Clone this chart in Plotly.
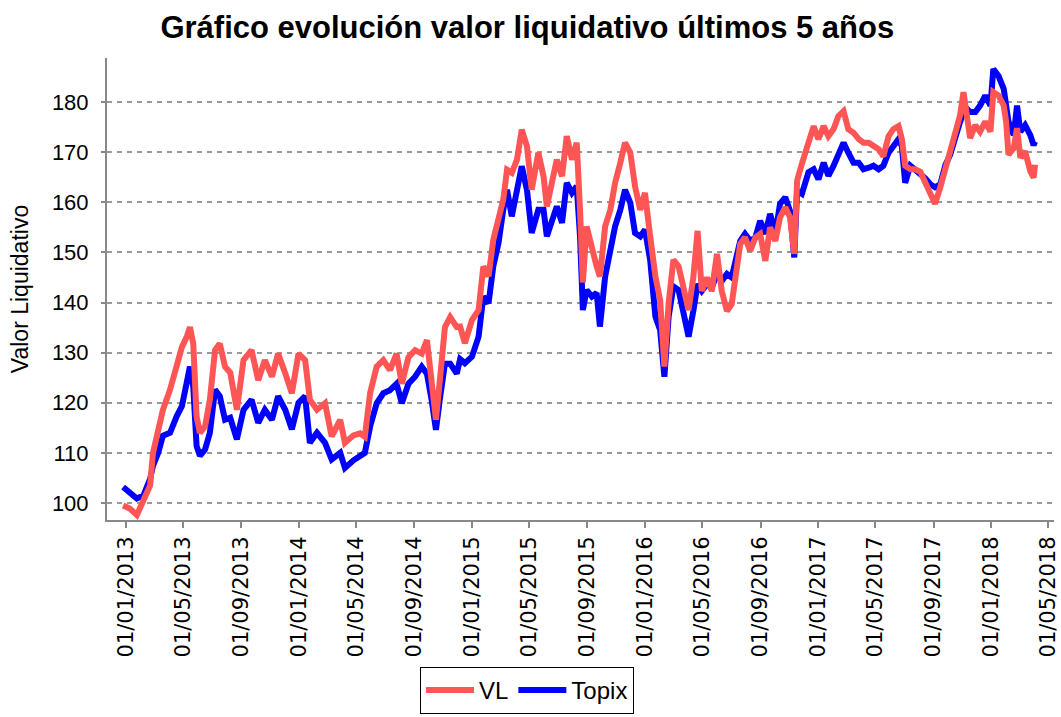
import plotly.graph_objects as go

dates = [
    "2012-12-26", "2013-01-09", "2013-01-24", "2013-02-07", "2013-02-21", "2013-02-27",
    "2013-03-10", "2013-03-20", "2013-04-04", "2013-04-18", "2013-04-29", "2013-05-09",
    "2013-05-16", "2013-05-23", "2013-05-30", "2013-06-06", "2013-06-17", "2013-06-27",
    "2013-07-08", "2013-07-18", "2013-07-29", "2013-08-09", "2013-08-23", "2013-09-06",
    "2013-09-23", "2013-10-07", "2013-10-21", "2013-11-05", "2013-11-18", "2013-12-03",
    "2013-12-17", "2013-12-31", "2014-01-14", "2014-01-24", "2014-02-08", "2014-02-25",
    "2014-03-11", "2014-03-29", "2014-04-08", "2014-04-26", "2014-05-10", "2014-05-20",
    "2014-05-31", "2014-06-14", "2014-06-28", "2014-07-12", "2014-07-26", "2014-08-06",
    "2014-08-20", "2014-09-03", "2014-09-17", "2014-09-28", "2014-10-08", "2014-10-17",
    "2014-10-26", "2014-11-05", "2014-11-16", "2014-11-30", "2014-12-07", "2014-12-17",
    "2015-01-01", "2015-01-15", "2015-01-25", "2015-02-05", "2015-02-15", "2015-02-26",
    "2015-03-08", "2015-03-16", "2015-03-26", "2015-04-06", "2015-04-16", "2015-04-27",
    "2015-05-07", "2015-05-21", "2015-06-01", "2015-06-08", "2015-06-18", "2015-06-29",
    "2015-07-10", "2015-07-20", "2015-07-31", "2015-08-10", "2015-08-17", "2015-08-23",
    "2015-08-31", "2015-09-11", "2015-09-21", "2015-09-28", "2015-10-09", "2015-10-20",
    "2015-10-30", "2015-11-10", "2015-11-20", "2015-12-01", "2015-12-11", "2015-12-22",
    "2016-01-01", "2016-01-12", "2016-01-23", "2016-02-02", "2016-02-11", "2016-02-20",
    "2016-03-01", "2016-03-12", "2016-03-22", "2016-04-02", "2016-04-12", "2016-04-21",
    "2016-04-30", "2016-05-11", "2016-05-21", "2016-06-01", "2016-06-11", "2016-06-22",
    "2016-07-02", "2016-07-09", "2016-07-20", "2016-07-30", "2016-08-10", "2016-08-21",
    "2016-08-31", "2016-09-11", "2016-09-21", "2016-10-02", "2016-10-12", "2016-10-23",
    "2016-11-02", "2016-11-11", "2016-11-17", "2016-11-27", "2016-12-11", "2016-12-22",
    "2017-01-01", "2017-01-12", "2017-01-22", "2017-02-02", "2017-02-12", "2017-02-23",
    "2017-03-05", "2017-03-16", "2017-03-27", "2017-04-06", "2017-04-17", "2017-04-27",
    "2017-05-08", "2017-05-18", "2017-05-29", "2017-06-08", "2017-06-19", "2017-06-26",
    "2017-07-03", "2017-07-14", "2017-07-24", "2017-08-04", "2017-08-14", "2017-08-25",
    "2017-09-04", "2017-09-15", "2017-09-26", "2017-10-06", "2017-10-17", "2017-10-27",
    "2017-11-03", "2017-11-10", "2017-11-17", "2017-11-28", "2017-12-08", "2017-12-19",
    "2017-12-30", "2018-01-05", "2018-01-16", "2018-01-27", "2018-02-01", "2018-02-06",
    "2018-02-17", "2018-02-24", "2018-03-03", "2018-03-13", "2018-03-24", "2018-03-31",
    "2018-04-03",
]

vl = [
    99.5, 98.9, 97.6, 100.9, 103.5, 110.0,
    114.7, 118.6, 122.6, 127.2, 131.1, 133.1,
    135.1, 131.8, 117.3, 114.0, 115.3, 120.6,
    130.5, 131.8, 127.2, 126.0, 118.6, 128.5,
    130.5, 124.5, 128.5, 125.2, 129.8, 125.9,
    121.9, 129.8, 128.5, 120.6, 118.6, 119.9,
    113.3, 116.6, 112.0, 113.5, 113.9, 113.2,
    121.9, 127.2, 128.5, 126.5, 129.8, 123.8,
    129.1, 130.5, 129.8, 132.5, 123.8, 116.6,
    125.2, 135.1, 137.1, 135.1, 135.2, 131.9,
    136.5, 138.5, 147.2, 145.2, 152.5, 157.2,
    160.5, 166.5, 165.9, 168.5, 174.5, 171.2,
    162.5, 169.9, 165.2, 159.2, 163.2, 168.5,
    165.2, 173.2, 168.5, 171.9, 158.5, 144.0,
    155.2, 150.5, 147.2, 145.2, 155.2, 158.5,
    163.9, 167.9, 171.9, 169.9, 163.2, 158.5,
    161.9, 153.2, 145.2, 140.5, 127.2, 139.9,
    148.5, 147.2, 143.2, 138.5, 145.0, 154.3,
    142.3, 145.0, 142.3, 149.7, 142.3, 138.3,
    139.7, 145.0, 151.7, 153.0, 150.3, 153.0,
    153.7, 148.3, 155.0, 152.3, 157.0, 159.0,
    157.0, 149.7, 164.3, 167.7, 172.0, 175.2,
    172.6, 175.2, 173.2, 174.6, 177.2, 178.2,
    174.6, 173.9, 172.6, 171.9, 171.9, 171.2,
    170.6, 169.2, 173.2, 174.6, 175.2, 172.6,
    167.3, 166.6, 166.6, 166.1, 164.1, 161.6,
    159.7, 163.0, 166.9, 170.2, 174.1, 177.4,
    182.0, 178.0, 172.8, 175.4, 174.1, 176.1,
    174.1, 182.0, 181.3, 179.3, 176.1, 169.5,
    170.8, 174.8, 168.9, 170.2, 166.2, 164.9,
    167.5,
]

topix = [
    103.2, 102.2, 100.9, 101.5, 104.8, 107.4,
    110.0, 113.4, 114.0, 117.3, 119.3, 123.9,
    127.2, 123.2, 111.4, 109.4, 110.7, 114.0,
    122.6, 121.3, 116.6, 117.0, 112.7, 118.6,
    120.6, 116.0, 118.6, 116.6, 121.3, 118.6,
    114.7, 120.0, 121.3, 112.0, 114.0, 112.0,
    108.7, 110.0, 107.0, 108.5, 109.3, 110.0,
    115.2, 119.9, 121.9, 122.5, 123.8, 119.9,
    123.8, 125.2, 127.2, 125.8, 120.5, 114.6,
    121.2, 127.8, 127.8, 125.8, 128.7, 127.9,
    129.2, 133.2, 141.2, 139.9, 147.2, 151.9,
    158.5, 162.5, 157.2, 163.2, 167.2, 162.5,
    153.9, 158.5, 158.5, 153.2, 155.9, 159.2,
    155.9, 163.9, 161.9, 163.2, 153.2, 138.5,
    142.5, 141.2, 141.9, 135.2, 145.2, 149.9,
    155.2, 158.5, 162.5, 159.9, 153.9, 153.2,
    154.5, 148.5, 137.2, 134.5, 125.2, 137.2,
    143.2, 142.5, 138.5, 133.2, 138.3, 143.7,
    142.3, 143.7, 143.0, 145.7, 144.3, 145.7,
    145.0, 148.3, 152.3, 153.7, 152.3, 153.0,
    156.3, 153.7, 157.7, 153.7, 159.7, 161.0,
    158.3, 149.0, 162.3, 161.7, 166.0, 166.6,
    164.6, 167.9, 165.3, 167.3, 169.9, 171.9,
    169.9, 167.9, 167.9, 166.6, 166.9, 167.3,
    166.6, 167.3, 169.9, 171.2, 172.6, 171.2,
    163.9, 167.3, 166.6, 165.8, 164.8, 163.6,
    163.0, 163.6, 167.5, 169.5, 173.4, 176.1,
    178.0, 178.7, 178.0, 178.0, 179.3, 181.3,
    179.3, 186.6, 185.2, 182.6, 179.3, 176.1,
    173.4, 179.3, 174.1, 175.4, 173.4, 171.4,
    172.1,
]

y_ticks = [100, 110, 120, 130, 140, 150, 160, 170, 180]

fig = go.Figure()
fig.add_trace(go.Scatter(x=dates, y=topix, mode="lines", name="Topix",
                         line=dict(color="#0000FF", width=6)))
fig.add_trace(go.Scatter(x=dates, y=vl, mode="lines", name="VL",
                         line=dict(color="#FF5555", width=6)))

fig.update_layout(
    width=1061, height=717,
    margin=dict(l=107, r=7, t=58, b=197, autoexpand=False),
    paper_bgcolor="white", plot_bgcolor="white",
    title=dict(text="<b>Gráfico evolución valor liquidativo últimos 5 años</b>",
               x=0.497, xanchor="center", y=0.962, yanchor="middle",
               font=dict(family="Liberation Sans", size=31, color="black")),
    showlegend=True,
    legend=dict(orientation="h", x=0.4435, xanchor="center", y=-0.318, yanchor="top",
                traceorder="reversed", bordercolor="black", borderwidth=1,
                itemwidth=48,
                bgcolor="white", font=dict(family="Liberation Sans", size=24, color="black")),
    font=dict(family="Liberation Sans", color="black"),
)

fig.update_xaxes(
    range=["2012-11-22", "2018-05-13"], automargin=False,
    tick0="2013-01-01", dtick="M4", tickformat="%d/%m/%Y", tickangle=-90,
    tickfont=dict(family="DejaVu Sans", size=21, color="black"),
    showgrid=False, zeroline=False,
    showline=True, linecolor="#888888", linewidth=2,
    ticks="outside", ticklen=6, tickwidth=2, tickcolor="#888888",
)
fig.update_yaxes(
    range=[96.6, 188.8], automargin=False,
    tickvals=y_ticks,
    tickfont=dict(family="Liberation Sans", size=22, color="black"),
    ticklabelstandoff=8,
    title=dict(text="Valor Liquidativo", font=dict(family="Liberation Sans", size=23, color="black"),
               standoff=17),
    showgrid=True, gridcolor="#999999", gridwidth=1.5, griddash="5px,5px",
    zeroline=False,
    showline=True, linecolor="#888888", linewidth=2,
    ticks="outside", ticklen=4, tickwidth=2, tickcolor="#888888",
)

fig.write_html("out.html", config={"displayModeBar": False},
               post_script="document.body.style.margin='0px';document.body.style.padding='0px';")
